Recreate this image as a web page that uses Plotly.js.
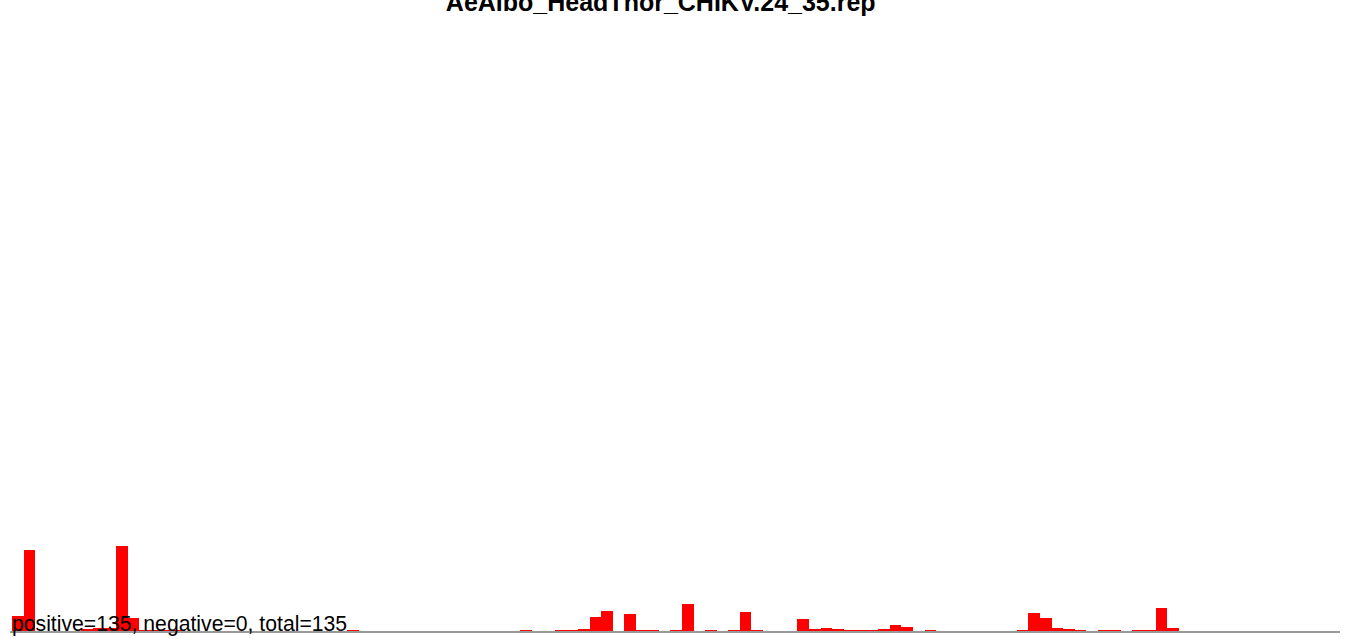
<!DOCTYPE html>
<html>
<head>
<meta charset="utf-8">
<script src="https://cdn.plot.ly/plotly-3.0.1.min.js"></script>
<style>
  html, body { margin: 0; padding: 0; background: #fff; }
  #chart { width: 1352px; height: 639px; }
</style>
</head>
<body>
<div id="chart"></div>
<script>
// Bin indices (genome position bins) and positive-strand counts
const bins = [0, 1, 6, 7, 8, 9, 10, 11, 12, 13, 14, 29, 44, 47, 48, 49, 50, 51, 53, 54, 55, 57, 58,
              60, 62, 63, 64, 68, 69, 70, 71, 72, 73, 74, 75, 76, 77, 79,
              87, 88, 89, 90, 91, 92, 94, 95, 97, 98, 99, 100];
const positive = [4.9, 26.5, 0.5, 1.0, 1.0, 27.8, 4.1, 0.35, 0.35, 0.35, 0.35, 0.35, 0.35, 0.35, 0.35, 0.55, 4.6, 6.5, 5.6, 0.35, 0.35, 0.35, 8.8,
                  0.35, 0.35, 6.1, 0.35, 3.8, 0.55, 0.9, 0.55, 0.35, 0.35, 0.35, 0.55, 1.9, 1.2, 0.35,
                  0.35, 5.8, 4.2, 0.9, 0.55, 0.35, 0.35, 0.35, 0.35, 0.35, 7.4, 0.9];
const nBins = 115;
const chartTitle = "AeAlbo_HeadThor_CHIKV.24_35.rep";
const summaryText = "positive=135, negative=0, total=135";

const font = "Arial, 'Liberation Sans', sans-serif";

const trace = {
  type: "bar",
  x: bins.map(b => b + 0.5),
  y: positive,
  width: bins.map(() => 1),
  marker: { color: "#ff0000", line: { width: 0 } },
  hoverinfo: "skip"
};

const layout = {
  width: 1352,
  height: 639,
  margin: { l: 10, r: 12, t: 20, b: 8, pad: 0 },
  paper_bgcolor: "#ffffff",
  plot_bgcolor: "#ffffff",
  showlegend: false,
  bargap: 0,
  title: {
    text: "<b>" + chartTitle + "</b>",
    font: { family: font, size: 25, color: "#000000" },
    x: 661.5 / 1352,
    xanchor: "center",
    xref: "paper",
    yref: "container",
    y: 1 - 2.5 / 639,
    yanchor: "middle"
  },
  xaxis: {
    range: [-0.18, nBins - 0.03],
    showgrid: false,
    zeroline: false,
    showticklabels: false,
    ticks: "",
    showline: true,
    linecolor: "#999999",
    linewidth: 2,
    fixedrange: true
  },
  yaxis: {
    range: [0, 200],
    showgrid: false,
    zeroline: false,
    showticklabels: false,
    ticks: "",
    showline: false,
    fixedrange: true
  },
  annotations: [{
    text: summaryText,
    xref: "paper",
    yref: "y",
    x: 0.0,
    y: 0,
    xanchor: "left",
    yanchor: "middle",
    xshift: 0,
    yshift: 7,
    showarrow: false,
    font: { family: font, size: 21.2, color: "#000000" }
  }]
};

Plotly.newPlot("chart", [trace], layout, { displayModeBar: false, staticPlot: true });
</script>
</body>
</html>
